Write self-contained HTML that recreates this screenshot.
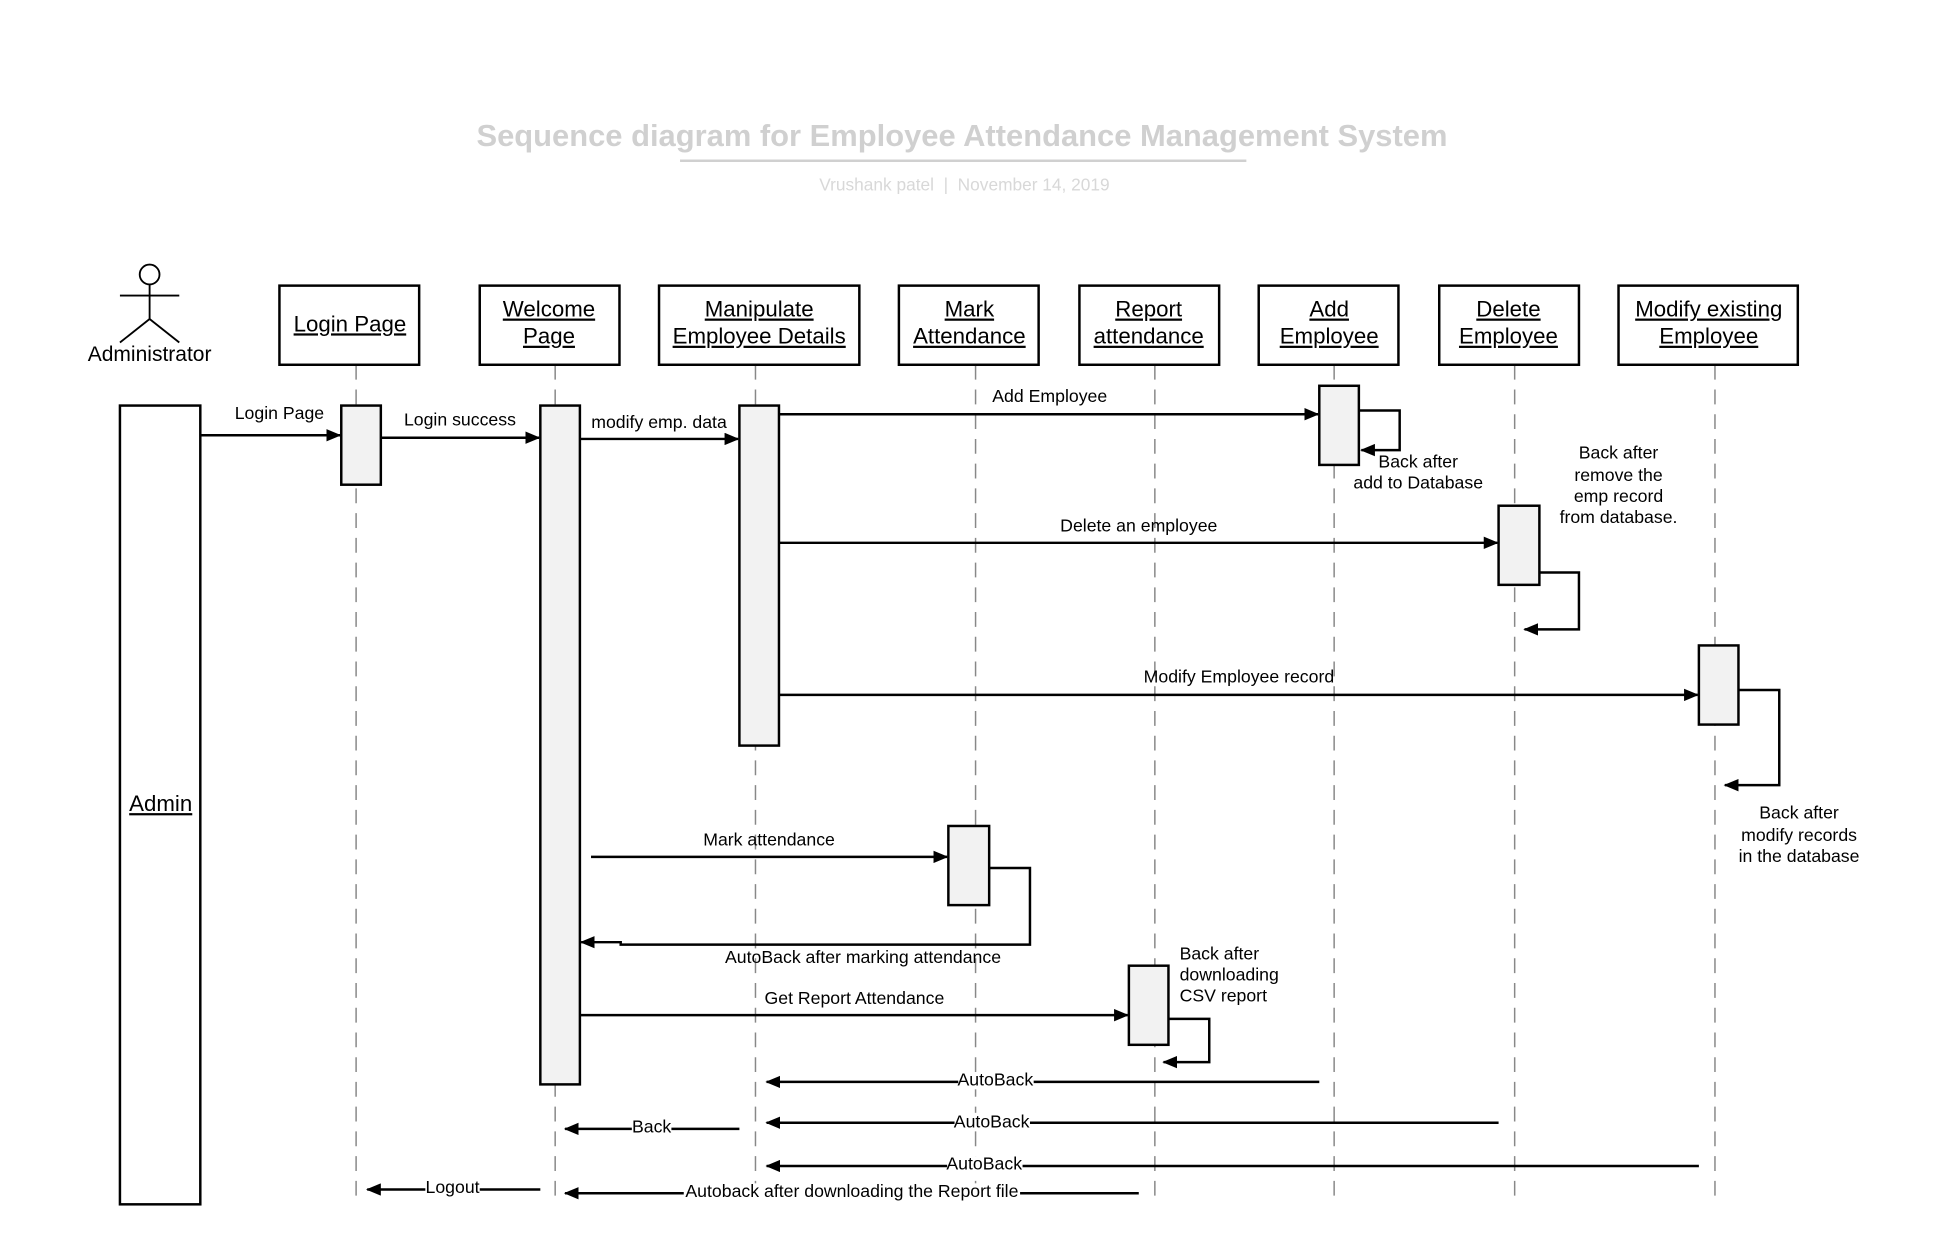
<!DOCTYPE html>
<html><head><meta charset="utf-8"><style>html,body{margin:0;padding:0;background:#fff}svg{display:block}</style></head>
<body>
<svg width="1940" height="1246" viewBox="0 0 1569 1007.7" preserveAspectRatio="none" xmlns="http://www.w3.org/2000/svg" font-family="Liberation Sans, Arial, sans-serif">
<defs>
<marker id="a" markerWidth="12" markerHeight="10" refX="11" refY="5" orient="auto" markerUnits="userSpaceOnUse"><path d="M0,0 L12,5 L0,10 z" fill="#000"/></marker>
</defs>
<rect width="1600" height="1010" fill="#fff"/>
<text x="778" y="118" text-anchor="middle" font-size="25" font-weight="bold" fill="#d0d0d0">Sequence diagram for Employee Attendance Management System</text>
<line x1="550" y1="130" x2="1008" y2="130" stroke="#d0d0d0" stroke-width="2"/>
<text x="780" y="154" text-anchor="middle" font-size="14" fill="#d8d8d8" style="white-space:pre">Vrushank patel  |  November 14, 2019</text>

<g stroke="#000" stroke-width="1.5" fill="none">
<circle cx="121" cy="222" r="8"/>
<line x1="121" y1="230" x2="121" y2="258"/>
<line x1="97" y1="239" x2="145" y2="239"/>
<line x1="121" y1="258" x2="97" y2="277"/>
<line x1="121" y1="258" x2="145" y2="277"/>
</g>
<text x="121" y="292" text-anchor="middle" font-size="17">Administrator</text>

<g stroke="#888" stroke-width="1.2" stroke-dasharray="12,8">
<line x1="288" y1="295" x2="288" y2="975"/>
<line x1="449" y1="295" x2="449" y2="975"/>
<line x1="611" y1="295" x2="611" y2="975"/>
<line x1="789" y1="295" x2="789" y2="975"/>
<line x1="934" y1="295" x2="934" y2="975"/>
<line x1="1079" y1="295" x2="1079" y2="975"/>
<line x1="1225" y1="295" x2="1225" y2="975"/>
<line x1="1387" y1="295" x2="1387" y2="975"/>
</g>

<g stroke="#000" stroke-width="2" fill="#fff">
<rect x="226" y="231" width="113" height="64"/>
<rect x="388" y="231" width="113" height="64"/>
<rect x="533" y="231" width="162" height="64"/>
<rect x="727" y="231" width="113" height="64"/>
<rect x="873" y="231" width="113" height="64"/>
<rect x="1018" y="231" width="113" height="64"/>
<rect x="1164" y="231" width="113" height="64"/>
<rect x="1309" y="231" width="145" height="64"/>
</g>
<g font-size="18" text-anchor="middle" text-decoration="underline">
<text x="283" y="268">Login Page</text>
<text x="444" y="256">Welcome</text><text x="444" y="278">Page</text>
<text x="614" y="256">Manipulate</text><text x="614" y="278">Employee Details</text>
<text x="784" y="256">Mark</text><text x="784" y="278">Attendance</text>
<text x="929" y="256">Report</text><text x="929" y="278">attendance</text>
<text x="1075" y="256">Add</text><text x="1075" y="278">Employee</text>
<text x="1220" y="256">Delete</text><text x="1220" y="278">Employee</text>
<text x="1382" y="256">Modify existing</text><text x="1382" y="278">Employee</text>
</g>

<rect x="97" y="328" width="65" height="646" fill="#fff" stroke="#000" stroke-width="2"/>
<text x="130" y="656" text-anchor="middle" font-size="18" text-decoration="underline">Admin</text>

<g stroke="#000" stroke-width="2" fill="#f2f2f2">
<rect x="276" y="328" width="32" height="64"/>
<rect x="437" y="328" width="32" height="549"/>
<rect x="598" y="328" width="32" height="275"/>
<rect x="1067" y="312" width="32" height="64"/>
<rect x="1212" y="409" width="33" height="64"/>
<rect x="1374" y="522" width="32" height="64"/>
<rect x="767" y="668" width="33" height="64"/>
<rect x="913" y="781" width="32" height="64"/>
</g>

<g stroke="#000" stroke-width="2" fill="none" marker-end="url(#a)">
<line x1="162" y1="352" x2="275" y2="352"/>
<line x1="308" y1="354" x2="436" y2="354"/>
<line x1="469" y1="355" x2="597" y2="355"/>
<line x1="630" y1="335" x2="1066" y2="335"/>
<polyline points="1099,332 1132,332 1132,364 1101,364"/>
<line x1="630" y1="439" x2="1211" y2="439"/>
<polyline points="1245,463 1277,463 1277,509 1233,509"/>
<line x1="630" y1="562" x2="1373" y2="562"/>
<polyline points="1406,558 1439,558 1439,635 1395,635"/>
<line x1="478" y1="693" x2="766" y2="693"/>
<polyline points="800,702 833,702 833,764 502,764 502,762 470,762"/>
<line x1="469" y1="821" x2="912" y2="821"/>
<polyline points="945,824 978,824 978,859 941,859"/>
<line x1="1067" y1="875" x2="620" y2="875"/>
<line x1="1212" y1="908" x2="620" y2="908"/>
<line x1="598" y1="913" x2="457" y2="913"/>
<line x1="1374" y1="943" x2="620" y2="943"/>
<line x1="437" y1="962" x2="297" y2="962"/>
<line x1="921" y1="965" x2="457" y2="965"/>
</g>

<g font-size="14.3" text-anchor="middle">
<text x="226" y="339">Login Page</text>
<text x="372" y="344">Login success</text>
<text x="533" y="346">modify emp. data</text>
<text x="849" y="325">Add Employee</text>
<text x="1147" y="378">Back after</text><text x="1147" y="395">add to Database</text>
<text x="921" y="430">Delete an employee</text>
<text x="1309" y="371">Back after</text><text x="1309" y="389">remove the</text><text x="1309" y="406">emp record</text><text x="1309" y="423">from database.</text>
<text x="1002" y="552">Modify Employee record</text>
<text x="1455" y="662">Back after</text><text x="1455" y="680">modify records</text><text x="1455" y="697">in the database</text>
<text x="622" y="684">Mark attendance</text>
<text x="698" y="779">AutoBack after marking attendance</text>
<text x="691" y="812">Get Report Attendance</text>
<text x="954" y="776" text-anchor="start">Back after</text><text x="954" y="793" text-anchor="start">downloading</text><text x="954" y="810" text-anchor="start">CSV report</text>
</g>
<g font-size="14.3" text-anchor="middle">
<rect x="775" y="867" width="61" height="14" fill="#fff"/><text x="805" y="878">AutoBack</text>
<rect x="772" y="900" width="61" height="14" fill="#fff"/><text x="802" y="912">AutoBack</text>
<rect x="511" y="905" width="32" height="14" fill="#fff"/><text x="527" y="916">Back</text>
<rect x="766" y="935" width="61" height="14" fill="#fff"/><text x="796" y="946">AutoBack</text>
<rect x="344" y="954" width="44" height="14" fill="#fff"/><text x="366" y="965">Logout</text>
<rect x="553" y="957" width="272" height="14" fill="#fff"/><text x="689" y="968">Autoback after downloading the Report file</text>
</g>
</svg>
</body></html>
